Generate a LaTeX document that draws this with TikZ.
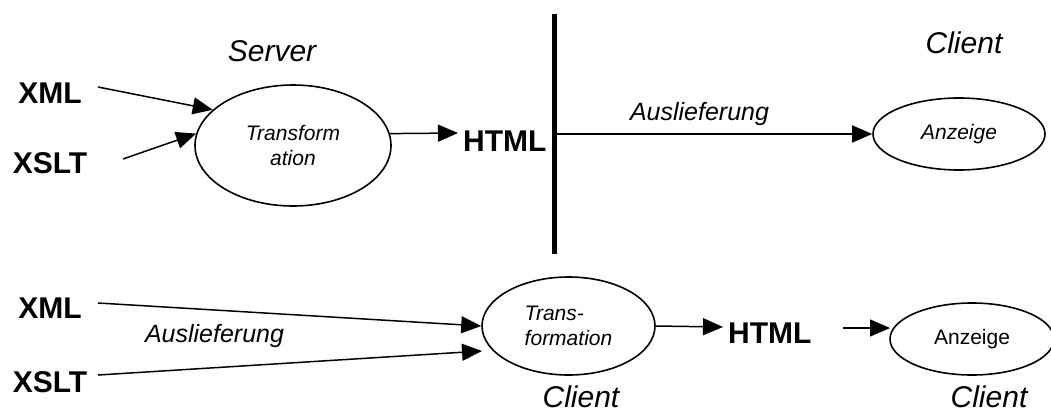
\documentclass[tikz,border=0pt]{standalone}
\usepackage{fontspec}
\setmainfont{Liberation Sans}
\usetikzlibrary{arrows.meta,shapes.geometric}
\begin{document}
\begin{tikzpicture}[x=1pt,y=-1pt,
  lbl/.style={font=\fontsize{30}{30}\selectfont\bfseries, inner sep=0pt, anchor=base},
  side/.style={font=\fontsize{30}{30}\selectfont\itshape, inner sep=0pt, anchor=base},
  via/.style={font=\fontsize{25}{25}\selectfont\itshape, inner sep=0pt, anchor=base},
  proc/.style={ellipse, draw, line width=1.6pt, inner sep=0pt, align=center,
    font=\fontsize{21}{25}\selectfont\itshape},
  conn/.style={line width=1.5pt, -{Triangle[length=20pt,width=17pt]}},
]
\useasboundingbox (0,0) rectangle (1051,412);

% ---------- top row (server side transformation)
\node[side] (server) at (272,61) {Server};
\node[side] (client1) at (964,53) {Client};
\node[lbl] (xml1) at (50,103) {XML};
\node[lbl] (xslt1) at (50,173) {XSLT};
\node[proc, minimum width=196pt, minimum height=121pt] (e1) at (293,145.5) {Transform\\ation};
\node[lbl, anchor=base west] (html1) at (463,151) {HTML};
\node[proc, minimum width=172pt, minimum height=72pt] (e2) at (959,134) {Anzeige};
\node[via] (deliv1) at (699.5,120) {Auslieferung};

\coordinate (xml1out) at (98,87);
\coordinate (xslt1out) at (123,159);
\coordinate (html1in) at (458,133);
\coordinate (sepTop) at (554.5,14);
\coordinate (sepBot) at (554.5,254);
\coordinate (sepOut) at (554.5,134);

\draw[conn] (xml1out) -- (e1.156);
\draw[conn] (xslt1out) -- (e1.173);
\draw[conn] (e1.7.4) -- (html1in);
\draw[line width=5pt] (sepTop) -- (sepBot);
\draw[conn] (sepOut) -- (e2.west);

% ---------- bottom row (client side transformation)
\node[lbl] (xml2) at (50,318) {XML};
\node[lbl] (xslt2) at (50,392) {XSLT};
\node[via] (deliv2) at (214.5,342) {Auslieferung};
\node[proc, align=left, minimum width=173pt, minimum height=98pt] (e3) at (568.5,326) {Trans-\\formation};
\node[lbl, anchor=base west] (html2) at (728,343) {HTML};
\node[proc, font=\fontsize{21}{25}\selectfont, minimum width=164pt, minimum height=72pt] (e4) at (972,339) {Anzeige};
\node[side] (client2) at (581,407) {Client};
\node[side] (client3) at (989,407) {Client};

\coordinate (xml2out) at (98,303);
\coordinate (xslt2out) at (98,375);
\coordinate (e3in) at (482,351);
\coordinate (html2in) at (723,327);
\coordinate (html2out) at (843,328);
\coordinate (e4in) at (890,328);

\draw[conn] (xml2out) -- (e3.west);
\draw[conn] (xslt2out) -- (e3in);
\draw[conn] (e3.east) -- (html2in);
\draw[conn] (html2out) -- (e4in);
\end{tikzpicture}
\end{document}
